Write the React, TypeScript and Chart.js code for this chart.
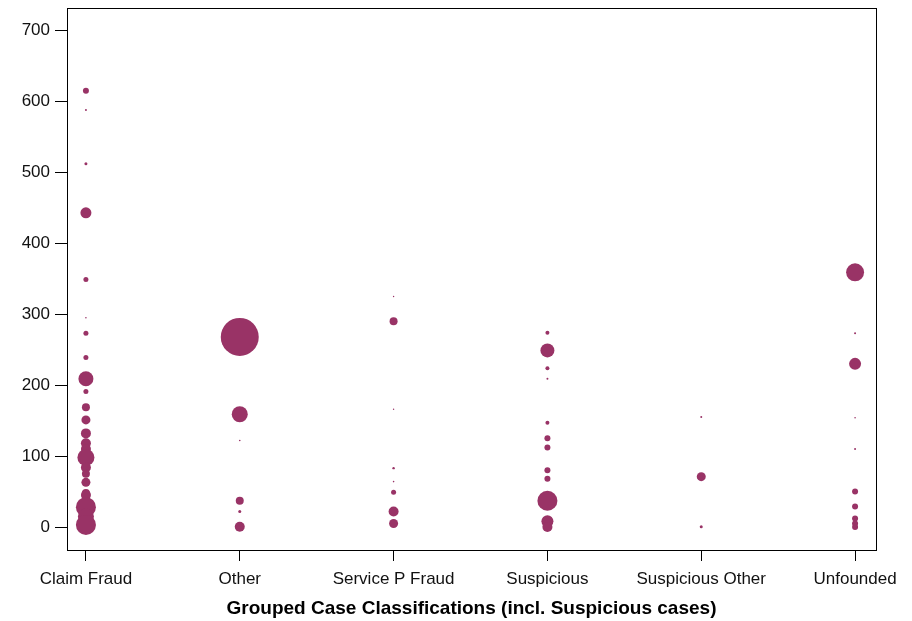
import React, { useEffect, useRef } from "react";
import { Chart, registerables } from "chart.js";

Chart.register(...registerables);

const categories = ["Claim Fraud", "Other", "Service P Fraud", "Suspicious", "Suspicious Other", "Unfounded"];
const yTicks = [0, 100, 200, 300, 400, 500, 600, 700];

const claimFraudValues = [615, 588, 512, 443, 349, 295, 273, 239, 209, 191, 169, 151, 132, 118, 110, 98, 84, 75, 63, 48, 45, 28, 15, 3];
const claimFraudSizes = [3, 1, 1.5, 5.5, 2.5, 0.8, 2.5, 2.5, 7.5, 2.5, 4, 4.5, 5, 5, 5, 8.5, 5, 4, 4.5, 4, 5, 10, 8, 10];
const otherValues = [268, 159, 122, 37, 22, 0.5];
const otherSizes = [19, 8, 0.8, 4, 1.5, 5];
const servicePValues = [325, 290, 166, 83, 64, 49, 22, 5];
const servicePSizes = [0.7, 4, 0.7, 1.2, 0.8, 2.5, 5, 4.5];
const suspiciousValues = [274, 249, 224, 209, 147, 125, 112, 80, 68, 37, 8, 0];
const suspiciousSizes = [2, 7, 2, 1, 2, 3, 3, 3, 3, 10, 6, 5];
const suspiciousOtherValues = [155, 71, 0.5];
const suspiciousOtherSizes = [1, 4.5, 1.5];
const unfoundedValues = [359, 273, 230, 154, 110, 50, 29, 12, 5, 0];
const unfoundedSizes = [9, 1, 6, 0.8, 1, 3, 3, 3, 3, 3];

const seriesValues = [claimFraudValues, otherValues, servicePValues, suspiciousValues, suspiciousOtherValues, unfoundedValues];
const seriesSizes = [claimFraudSizes, otherSizes, servicePSizes, suspiciousSizes, suspiciousOtherSizes, unfoundedSizes];

const boxPlugin = {
  id: "boxFrame",
  afterDraw(chart: any) {
    const { ctx, chartArea } = chart;
    ctx.save();
    ctx.strokeStyle = "#000";
    ctx.lineWidth = 1;
    ctx.strokeRect(Math.round(chartArea.left) + 0.5, Math.round(chartArea.top) + 0.5,
      Math.round(chartArea.right - chartArea.left), Math.round(chartArea.bottom - chartArea.top));
    ctx.restore();
  },
};

export default function App() {
  const ref = useRef<HTMLCanvasElement>(null);
  useEffect(() => {
    if (!ref.current) return;
    const points: any[] = [];
    seriesValues.forEach((vals, ci) => {
      vals.forEach((v, i) => points.push({ x: ci, y: v, r: seriesSizes[ci][i] }));
    });
    const font = { family: "'Liberation Sans', Arial, sans-serif", size: 17 };
    const chart = new Chart(ref.current, {
      type: "bubble",
      data: {
        datasets: [{
          data: points,
          backgroundColor: "#993366",
          borderColor: "#993366",
          borderWidth: 0,
          hoverRadius: 0,
        }],
      },
      options: {
        animation: false,
        responsive: false,
        maintainAspectRatio: false,
        layout: { autoPadding: false, padding: { left: 0, top: 8, right: 36, bottom: 0 } },
        plugins: { legend: { display: false }, tooltip: { enabled: false } },
        scales: {
          x: {
            type: "linear",
            min: -0.123,
            max: 5.136,
            afterBuildTicks: (s: any) => { s.ticks = categories.map((_, i) => ({ value: i })); },
            afterFit: (s: any) => { s.height = 71; s.paddingLeft = 0; s.paddingRight = 0; },
            ticks: {
              callback: (v: any) => categories[v] ?? "",
              color: "#111",
              font,
              padding: 8,
              maxRotation: 0,
              autoSkip: false,
            },
            grid: { display: true, drawOnChartArea: false, drawTicks: true, tickLength: 11, color: "#000" },
            border: { display: true, color: "#000" },
            title: {
              display: true,
              text: "Grouped Case Classifications (incl. Suspicious cases)",
              color: "#000",
              font: { family: "'Liberation Sans', Arial, sans-serif", size: 19, weight: "bold" },
              padding: { top: 2, bottom: 1 },
            },
          },
          y: {
            type: "linear",
            min: -32.4,
            max: 731.7,
            afterBuildTicks: (s: any) => { s.ticks = yTicks.map((v) => ({ value: v })); },
            afterFit: (s: any) => { s.width = 67; s.paddingTop = 0; s.paddingBottom = 0; },
            ticks: { color: "#111", font, padding: 5 },
            grid: { display: true, drawOnChartArea: false, drawTicks: true, tickLength: 12, color: "#000" },
            border: { display: true, color: "#000" },
          },
        },
      },
      plugins: [boxPlugin],
    });
    return () => chart.destroy();
  }, []);
  return (
    <div style={{ position: "fixed", left: 0, top: 0, width: 912, height: 621, background: "#fff" }}>
      <canvas ref={ref} width={912} height={621} style={{ width: 912, height: 621 }} />
    </div>
  );
}
